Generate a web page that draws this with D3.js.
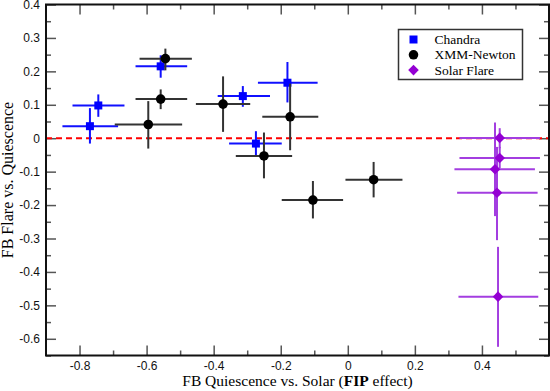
<!DOCTYPE html>
<html>
<head>
<meta charset="utf-8">
<script src="https://cdn.jsdelivr.net/npm/d3@7"></script>
<style>
  body { margin: 0; background: #fff; }
  svg { display: block; }
</style>
</head>
<body>
<div id="chart"></div>
<script>
// Chandra
const chandraX    = [-0.769, -0.744, -0.558, -0.313, -0.180, -0.274];
const chandraY    = [ 0.036,  0.098,  0.215,  0.126,  0.166, -0.016];
const chandraXLo  = [-0.851, -0.821, -0.633, -0.388, -0.268, -0.354];
const chandraXHi  = [-0.685, -0.666, -0.479, -0.232, -0.090, -0.197];
const chandraYLo  = [-0.016,  0.064,  0.181,  0.094,  0.107, -0.051];
const chandraYHi  = [ 0.090,  0.131,  0.248,  0.156,  0.228,  0.021];

// XMM-Newton
const xmmX   = [-0.595, -0.558, -0.544, -0.372, -0.172, -0.250, -0.104,  0.077];
const xmmY   = [ 0.041,  0.117,  0.238,  0.102,  0.064, -0.053, -0.185, -0.124];
const xmmXLo = [-0.695, -0.633, -0.621, -0.453, -0.255, -0.334, -0.197, -0.007];
const xmmXHi = [-0.494, -0.479, -0.465, -0.291, -0.088, -0.166, -0.014,  0.163];
const xmmYLo = [-0.031,  0.087,  0.203,  0.019, -0.036, -0.120, -0.240, -0.177];
const xmmYHi = [ 0.111,  0.146,  0.268,  0.185,  0.163,  0.017, -0.128, -0.071];

// Solar Flare
const solarX   = [0.453,  0.453,  0.439,  0.445,  0.448];
const solarY   = [0.001, -0.059, -0.093, -0.163, -0.474];
const solarXLo = [0.333,  0.333,  0.318,  0.326,  0.330];
const solarXHi = [0.573,  0.573,  0.558,  0.566,  0.568];
const solarYLo = [-0.030, -0.090, -0.233, -0.305, -0.624];
const solarYHi = [ 0.030, -0.026,  0.047, -0.026, -0.325];

const xTickLabels = [-0.8, -0.6, -0.4, -0.2, 0, 0.2, 0.4];
const yTickLabels = [0.4, 0.3, 0.2, 0.1, 0, -0.1, -0.2, -0.3, -0.4, -0.5, -0.6];

const width = 550, height = 391;
const margin = {top: 4.5, right: 1, bottom: 35.5, left: 46};
const serif = "'Liberation Serif', 'Times New Roman', serif";
const sans = "'Liberation Sans', Arial, sans-serif";

const svg = d3.select("#chart").append("svg")
    .attr("width", width)
    .attr("height", height);

const x = d3.scaleLinear().domain([-0.9, 0.6]).range([margin.left, width - margin.right]);
const y = d3.scaleLinear().domain([-0.65, 0.4]).range([height - margin.bottom, margin.top]);

const xMinor = d3.range(-0.8, 0.55, 0.1).map(v => +v.toFixed(2)).filter(v => !xTickLabels.includes(v));
const yMinor = d3.range(-0.65, 0.4, 0.1).map(v => +v.toFixed(2));

// plain hyphen for negatives, like the original
const fmt = d => String(d);

function styleAxis(g) {
    g.select(".domain").remove();
    g.selectAll("line").attr("stroke", "#555").attr("stroke-width", 1.5);
    g.selectAll("text").attr("font-family", sans).attr("font-size", 12).attr("fill", "#111");
}

const yBottom = y.range()[0], yTop = y.range()[1];

// bottom + top axes
svg.append("g").attr("transform", `translate(0,${yBottom})`)
    .call(d3.axisBottom(x).tickValues(xTickLabels).tickSize(-10).tickPadding(6).tickFormat(fmt))
    .call(styleAxis);
svg.append("g").attr("transform", `translate(0,${yBottom})`)
    .call(d3.axisBottom(x).tickValues(xMinor).tickSize(-5).tickFormat(""))
    .call(styleAxis);
svg.append("g").attr("transform", `translate(0,${yTop})`)
    .call(d3.axisTop(x).tickValues(xTickLabels).tickSize(-10).tickFormat(""))
    .call(styleAxis);
svg.append("g").attr("transform", `translate(0,${yTop})`)
    .call(d3.axisTop(x).tickValues(xMinor).tickSize(-5).tickFormat(""))
    .call(styleAxis);

// left + right axes
svg.append("g").attr("transform", `translate(${margin.left},0)`)
    .call(d3.axisLeft(y).tickValues(yTickLabels).tickSize(-10).tickPadding(6).tickFormat(fmt))
    .call(styleAxis);
svg.append("g").attr("transform", `translate(${margin.left},0)`)
    .call(d3.axisLeft(y).tickValues(yMinor).tickSize(-5).tickFormat(""))
    .call(styleAxis);
svg.append("g").attr("transform", `translate(${width - margin.right},0)`)
    .call(d3.axisRight(y).tickValues(yTickLabels).tickSize(-10).tickFormat(""))
    .call(styleAxis);
svg.append("g").attr("transform", `translate(${width - margin.right},0)`)
    .call(d3.axisRight(y).tickValues(yMinor).tickSize(-5).tickFormat(""))
    .call(styleAxis);

// zero line
svg.append("line")
    .attr("x1", x.range()[0]).attr("x2", x.range()[1])
    .attr("y1", y(0)).attr("y2", y(0))
    .attr("stroke", "#ff0000").attr("stroke-width", 2)
    .attr("stroke-dasharray", "6,4");

function zipSeries(xs, ys, xlo, xhi, ylo, yhi) {
    return xs.map((v, i) => ({x: v, y: ys[i], xlo: xlo[i], xhi: xhi[i], ylo: ylo[i], yhi: yhi[i]}));
}

const series = [
    {name: "Chandra", data: zipSeries(chandraX, chandraY, chandraXLo, chandraXHi, chandraYLo, chandraYHi),
     bar: "#1010ff", fill: "#0000ff", symbol: d3.symbolSquare, size: 64, rot: 0},
    {name: "XMM-Newton", data: zipSeries(xmmX, xmmY, xmmXLo, xmmXHi, xmmYLo, xmmYHi),
     bar: "#333333", fill: "#000000", symbol: d3.symbolCircle, size: 72, rot: 0},
    {name: "Solar Flare", data: zipSeries(solarX, solarY, solarXLo, solarXHi, solarYLo, solarYHi),
     bar: "#a33ee0", fill: "#9400d3", symbol: d3.symbolSquare, size: 56, rot: 45}
];

series.forEach(s => {
    const g = svg.append("g");
    g.selectAll(".xerr").data(s.data).enter().append("line")
        .attr("x1", d => x(d.xlo)).attr("x2", d => x(d.xhi))
        .attr("y1", d => y(d.y)).attr("y2", d => y(d.y))
        .attr("stroke", s.bar).attr("stroke-width", 2);
    g.selectAll(".yerr").data(s.data).enter().append("line")
        .attr("x1", d => x(d.x)).attr("x2", d => x(d.x))
        .attr("y1", d => y(d.ylo)).attr("y2", d => y(d.yhi))
        .attr("stroke", s.bar).attr("stroke-width", 2);
    g.selectAll(".pt").data(s.data).enter().append("path")
        .attr("transform", d => `translate(${x(d.x)},${y(d.y)}) rotate(${s.rot})`)
        .attr("d", d3.symbol().type(s.symbol).size(s.size))
        .attr("fill", s.fill);
});

// frame
svg.append("rect")
    .attr("x", x.range()[0]).attr("y", y.range()[1])
    .attr("width", x.range()[1] - x.range()[0])
    .attr("height", y.range()[0] - y.range()[1])
    .attr("fill", "none").attr("stroke", "#111").attr("stroke-width", 2);

// legend
const legend = svg.append("g").attr("transform", "translate(398.5,29.5)");
legend.append("rect")
    .attr("width", 124).attr("height", 50)
    .attr("fill", "#fff").attr("stroke", "#333").attr("stroke-width", 1.5);
series.forEach((s, i) => {
    const ly = 10 + i * 15.3;
    legend.append("path")
        .attr("transform", `translate(15,${ly}) rotate(${s.rot})`)
        .attr("d", d3.symbol().type(s.symbol).size(s.size))
        .attr("fill", s.fill);
    legend.append("text")
        .attr("x", 36).attr("y", ly + 4.5)
        .attr("font-family", serif).attr("font-size", 13.5)
        .attr("fill", "#000")
        .text(s.name);
});

// axis titles
const xTitle = svg.append("text")
    .attr("x", (x.range()[0] + x.range()[1]) / 2)
    .attr("y", 386)
    .attr("text-anchor", "middle")
    .attr("font-family", serif).attr("font-size", 15.5);
xTitle.append("tspan").text("FB Quiescence vs. Solar (");
xTitle.append("tspan").attr("font-weight", "bold").text("FIP");
xTitle.append("tspan").text(" effect)");

svg.append("text")
    .attr("transform", `translate(13,${(y.range()[0] + y.range()[1]) / 2}) rotate(-90)`)
    .attr("text-anchor", "middle")
    .attr("font-family", serif).attr("font-size", 16)
    .text("FB Flare vs. Quiescence");
</script>
</body>
</html>
